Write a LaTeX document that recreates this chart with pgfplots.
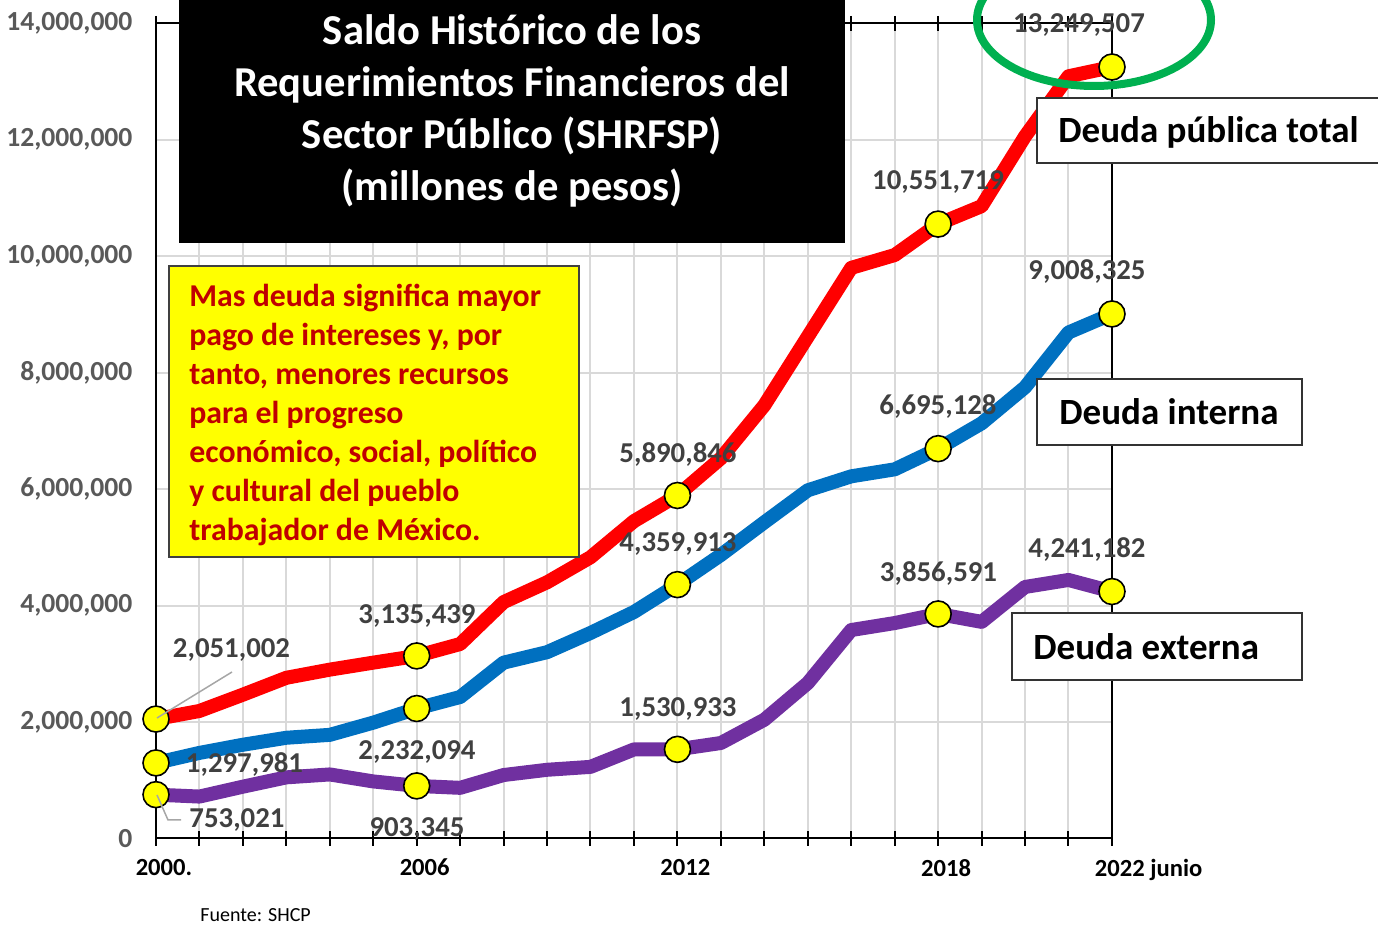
\documentclass[border=0pt]{standalone}
\usepackage{pgfplots}
\pgfplotsset{compat=1.18}
\usepackage{fontspec}
\setmainfont{Carlito}
\definecolor{cred}{HTML}{FF0000}
\definecolor{cblue}{HTML}{0070C0}
\definecolor{cpurple}{HTML}{7030A0}
\definecolor{cyellow}{HTML}{FFFF00}
\definecolor{cgreen}{HTML}{00B050}
\definecolor{cdarkred}{HTML}{C00000}
\definecolor{tickgray}{HTML}{595959}
\definecolor{labgray}{HTML}{404040}
\definecolor{gridgray}{HTML}{D9D9D9}
\definecolor{leadgray}{HTML}{A6A6A6}
\begin{document}
\begin{tikzpicture}
\path[use as bounding box] (0,0) rectangle (689pt,463pt);
\begin{axis}[
  at={(78pt,43.75pt)}, anchor=south west, scale only axis,
  width=478pt, height=407.6pt,
  xmin=2000, xmax=2022, ymin=0, ymax=14000000,
  axis line style={black, line width=1pt},
  xtick={2000,...,2022},
  xticklabels={2000.,,,,,,2006,,,,,,2012,,,,,,2018,,,,{2022\rlap{ junio}}},
  ytick={0,2000000,4000000,6000000,8000000,10000000,12000000,14000000},
  yticklabels={0,{2,000,000},{4,000,000},{6,000,000},{8,000,000},{10,000,000},{12,000,000},{14,000,000}},
  scaled y ticks=false,
  grid=major,
  major grid style={draw=gridgray, line width=1pt},
  xtick style={draw=black, line width=1pt},
  ytick style={draw=none},
  tick align=center,
  major tick length=7.5pt,
  xticklabel style={font=\bfseries\fontsize{12.3}{14}\selectfont, text=black, xshift=4pt, yshift=-3pt},
  yticklabel style={font=\bfseries\fontsize{13.8}{16}\selectfont, text=tickgray, xshift=-4.5pt},
  clip=false,
]
\addplot[cred, line width=7pt, line join=round] coordinates {
(2000,2051002) (2001,2190000) (2002,2470000) (2003,2760000) (2004,2900000)
(2005,3020000) (2006,3135439) (2007,3340000) (2008,4060000) (2009,4400000)
(2010,4830000) (2011,5450000) (2012,5890846) (2013,6530000) (2014,7440000)
(2015,8620000) (2016,9800000) (2017,10020000) (2018,10551719) (2019,10860000)
(2020,12060000) (2021,13090000) (2022,13249507)};
\addplot[cblue, line width=7pt, line join=round] coordinates {
(2000,1297981) (2001,1470000) (2002,1610000) (2003,1730000) (2004,1780000)
(2005,1990000) (2006,2232094) (2007,2430000) (2008,3020000) (2009,3200000)
(2010,3530000) (2011,3890000) (2012,4359913) (2013,4870000) (2014,5430000)
(2015,5980000) (2016,6220000) (2017,6340000) (2018,6695128) (2019,7130000)
(2020,7750000) (2021,8690000) (2022,9008325)};
\addplot[cpurple, line width=7pt, line join=round] coordinates {
(2000,753021) (2001,720000) (2002,890000) (2003,1050000) (2004,1100000)
(2005,980000) (2006,903345) (2007,870000) (2008,1090000) (2009,1180000)
(2010,1230000) (2011,1530000) (2012,1530933) (2013,1640000) (2014,2040000)
(2015,2670000) (2016,3580000) (2017,3700000) (2018,3856591) (2019,3720000)
(2020,4320000) (2021,4440000) (2022,4241182)};
\addplot[only marks, mark=*, mark size=6.5pt, mark options={fill=cyellow, draw=black, line width=0.8pt}] coordinates {
(2000,2051002) (2006,3135439) (2012,5890846) (2018,10551719) (2022,13249507)
(2000,1297981) (2006,2232094) (2012,4359913) (2018,6695128) (2022,9008325)
(2000,753021) (2006,903345) (2012,1530933) (2018,3856591) (2022,4241182)};
\end{axis}
\begin{scope}[x=0.5pt, y=-0.5pt, shift={(0pt,463pt)}]
  % leader lines
  \draw[leadgray, line width=0.75pt] (157,718) -- (232,672);
  \draw[leadgray, line width=0.75pt] (157,795) -- (168,820) -- (181,820);
  % data labels
  \tikzset{dl/.style={anchor=base, inner sep=0pt, text=labgray, font=\bfseries\fontsize{14.4}{16}\selectfont}}
  \node[dl] at (231.5,658) {2,051,002};
  \node[dl] at (417,624) {3,135,439};
  \node[dl] at (678,463) {5,890,846};
  \node[dl] at (938,190) {10,551,719};
  \node[dl] at (1079,33) {13,249,507};
  \node[dl] at (244.5,773) {1,297,981};
  \node[dl] at (417,760) {2,232,094};
  \node[dl] at (678,552) {4,359,913};
  \node[dl] at (938,415) {6,695,128};
  \node[dl] at (1087,280) {9,008,325};
  \node[dl] at (237,828) {753,021};
  \node[dl] at (417,837) {903,345};
  \node[dl] at (678,717) {1,530,933};
  \node[dl] at (938.5,582) {3,856,591};
  \node[dl] at (1087,558) {4,241,182};
  % green ellipse
  \draw[cgreen, line width=4pt] (1094,20) ellipse [x radius=117, y radius=66];
  % title box
  \fill[black] (179,0) rectangle (845,243);
  \tikzset{tt/.style={anchor=base, inner sep=0pt, text=white, font=\bfseries\fontsize{21.3}{26}\selectfont}}
  \node[tt] at (512,45) {Saldo Histórico de los};
  \node[tt] at (512,97) {Requerimientos Financieros del};
  \node[tt] at (512,149) {Sector Público (SHRFSP)};
  \node[tt] at (512,201) {(millones de pesos)};
  % yellow box
  \filldraw[fill=cyellow, draw=black!75, line width=0.75pt] (169,266) rectangle (579,557);
  \tikzset{yt/.style={anchor=base west, inner sep=0pt, text=cdarkred, font=\bfseries\fontsize{15.9}{19}\selectfont}}
  \node[yt] at (189,307) {Mas deuda significa mayor};
  \node[yt] at (189,346) {pago de intereses y, por};
  \node[yt] at (189,385) {tanto, menores recursos};
  \node[yt] at (189,424) {para el progreso};
  \node[yt] at (189,463) {económico, social, político};
  \node[yt] at (189,502) {y cultural del pueblo};
  \node[yt] at (189,541) {trabajador de México.};
  % series labels
  \tikzset{sl/.style={anchor=base west, inner sep=0pt, text=black, font=\bfseries\fontsize{18.5}{22}\selectfont}}
  \filldraw[fill=white, draw=black!80, line width=0.75pt] (1037,98) rectangle (1390,163);
  \node[sl] at (1058,143) {Deuda pública total};
  \filldraw[fill=white, draw=black!80, line width=0.75pt] (1037,379) rectangle (1302,445);
  \node[sl] at (1059,425) {Deuda interna};
  \filldraw[fill=white, draw=black!80, line width=0.75pt] (1012,613) rectangle (1302,680);
  \node[sl] at (1033,660) {Deuda externa};
  % source
  \node[anchor=base west, inner sep=0pt, font=\fontsize{10}{12}\selectfont] at (200,922) {Fuente: SHCP};
\end{scope}
\end{tikzpicture}
\end{document}
